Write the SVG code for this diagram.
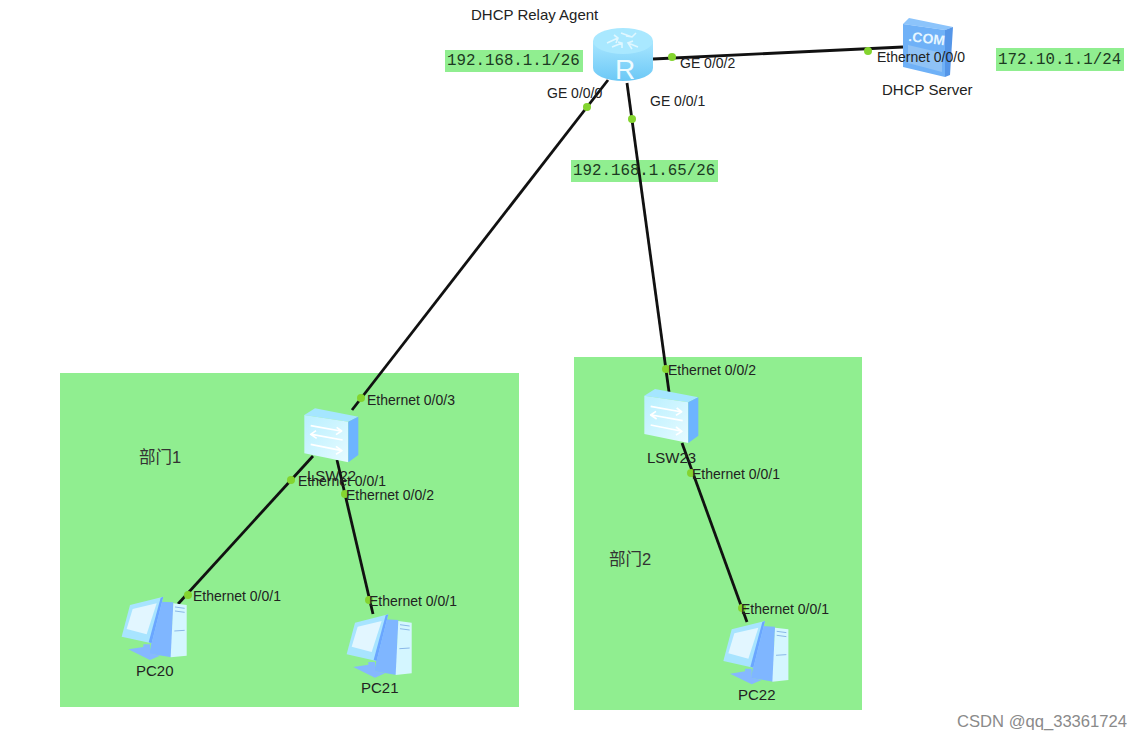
<svg xmlns="http://www.w3.org/2000/svg" width="1142" height="739" viewBox="0 0 1142 739">
<style>
text{font-family:"Liberation Sans",Arial,sans-serif;font-size:15px;fill:#222}
.port{font-size:14px}
.ip{font-family:"Liberation Mono","DejaVu Sans Mono",monospace;font-size:15.8px;fill:#1c3a22}
.cn{font-family:"Liberation Sans","Noto Sans CJK SC",sans-serif;font-size:16.5px;fill:#333}
.region,.iprect{fill:#90ee90}
.link{stroke:#111;stroke-width:2.8;fill:none}
.dot{fill:#84d42f}
.arrow{stroke:#fff;stroke-width:5;fill:none;stroke-linejoin:round}
</style>
<defs>
<linearGradient id="sw" x1="0" y1="0" x2="1" y2="1"><stop offset="0" stop-color="#b8efff"/><stop offset="1" stop-color="#e6fbff"/></linearGradient>
<linearGradient id="rt" x1="0" y1="0" x2="0" y2="1"><stop offset="0" stop-color="#a8e6ff"/><stop offset="1" stop-color="#6cc8f6"/></linearGradient>
<g id="pc">
<path d="M148 50L190 52L185 217L118 206Z" fill="#7fb6ff"/>
<path d="M190 55L230 60V212L182 217Z" fill="#d4f6ff"/>
<path d="M195 66L224 70M195 78L224 82M193 138L224 136" stroke="#8ab8e8" stroke-width="3"/>
<path d="M100 178H120V205L150 212L120 225L55 193L100 186Z" fill="#86b8ff"/>
<path d="M60 60L160 35L125 175L35 155Z" fill="#a8e4ff"/>
<path d="M152 38L160 35L125 175L116 172Z" fill="#6aa6ff"/>
<path d="M68 72L140 55L110 148L50 132Z" fill="#e2f6ff"/>
</g>
<g id="switch">
<path d="M103 90L135 70L265 95L235 110Z" fill="#a5e6ff"/>
<path d="M103 90L235 110V232L103 205Z" fill="url(#sw)"/>
<path d="M235 110L265 95V210L235 232Z" fill="#6db4ff"/>
<path class="arrow" d="M122 122L212 138M200 127L215 138L198 149M218 165L125 148M138 137L122 148L140 160M122 178L212 196M198 184L216 197L198 208"/>
</g>
</defs>
<rect width="1142" height="739" fill="#fff"/>
<g id="regions">
<rect class="region" x="60" y="373" width="459" height="334"/>
<rect class="region" x="574" y="357" width="288" height="353"/>
<rect class="iprect" x="445" y="50" width="138" height="22"/>
<rect class="iprect" x="571" y="160" width="147" height="22"/>
<rect class="iprect" x="996" y="48" width="128" height="23"/>
</g>
<g id="connectors">
<path class="link" d="M608 80L352 410"/>
<path class="link" d="M627 83L669 392"/>
<path class="link" d="M653 59L903 47"/>
<path class="link" d="M313 456L178 604"/>
<path class="link" d="M337 460L373 614"/>
<path class="link" d="M682 443L747 622"/>
</g>
<g id="router">
<path d="M593 41V68A30 13 0 0 0 653 68V41Z" fill="url(#rt)"/>
<ellipse cx="623" cy="41" rx="30" ry="13" fill="#a9e8ff"/>
<path d="M607 43L618 38M614 35L618 38L616 43M621 33L632 37M636 33L632 37L626 36M612 47L622 43M622 48L622 43L618 42M628 43L638 47M632 49L628 43L633 41" stroke="#e0f7ff" stroke-width="1.6" fill="none"/>
<text x="625" y="79" text-anchor="middle" style="font-size:28px;fill:#eefbff">R</text>
</g>
<g id="server">
<path d="M903 24L909 18L953 27L945 30Z" fill="#8cc4fb"/>
<path d="M903 24L945 30V77L903 67Z" fill="#6fb1f7"/>
<path d="M945 30L953 27L950 75L945 77Z" fill="#5596e8"/>
<path d="M908 45L942 53V72L908 63Z" fill="#8fc2f5"/>
<text x="908" y="41" style="font-size:14px;font-weight:700;fill:#e6f6ff" transform="rotate(7 908 41)">.COM</text>
</g>
<g id="lsw22"><use href="#switch" transform="translate(270 385) scale(.3333)"/></g>
<g id="lsw23"><use href="#switch" transform="translate(610 365.700) scale(.3333)"/></g>
<g id="pc20"><use href="#pc" transform="translate(110 585) scale(.3333)"/></g>
<g id="pc21"><use href="#pc" transform="translate(335 602.700) scale(.3333)"/></g>
<g id="pc22"><use href="#pc" transform="translate(711.700 609.300) scale(.3333)"/></g>
<g id="dots">
<circle class="dot" cx="587" cy="107" r="4"/><circle class="dot" cx="632" cy="119" r="4"/><circle class="dot" cx="672" cy="57" r="4"/><circle class="dot" cx="868" cy="51" r="4"/>
<circle class="dot" cx="361" cy="398" r="4"/><circle class="dot" cx="291" cy="480" r="4"/><circle class="dot" cx="345" cy="494" r="4"/><circle class="dot" cx="188" cy="595" r="4"/><circle class="dot" cx="369" cy="600" r="4"/>
<circle class="dot" cx="666" cy="369" r="4"/><circle class="dot" cx="691" cy="473" r="4"/><circle class="dot" cx="742" cy="608" r="4"/>
</g>
<g id="labels">
<text x="471" y="20">DHCP Relay Agent</text>
<text x="882" y="95">DHCP Server</text>
<text x="307" y="481">LSW22</text>
<text x="647" y="463">LSW23</text>
<text x="136" y="676">PC20</text>
<text x="361" y="693">PC21</text>
<text x="738" y="700">PC22</text>
<text class="port" x="547" y="98">GE 0/0/0</text>
<text class="port" x="650" y="106">GE 0/0/1</text>
<text class="port" x="680" y="68">GE 0/0/2</text>
<text class="port" x="877" y="62">Ethernet 0/0/0</text>
<text class="port" x="367" y="405">Ethernet 0/0/3</text>
<text class="port" x="298" y="486">Ethernet 0/0/1</text>
<text class="port" x="346" y="500">Ethernet 0/0/2</text>
<text class="port" x="193" y="601">Ethernet 0/0/1</text>
<text class="port" x="369" y="606">Ethernet 0/0/1</text>
<text class="port" x="668" y="375">Ethernet 0/0/2</text>
<text class="port" x="692" y="479">Ethernet 0/0/1</text>
<text class="port" x="741" y="614">Ethernet 0/0/1</text>
<text class="ip" x="447" y="65">192.168.1.1/26</text>
<text class="ip" x="573" y="175">192.168.1.65/26</text>
<text class="ip" x="998" y="64">172.10.1.1/24</text>
<text class="cn" x="139" y="463">部门1</text>
<text class="cn" x="609" y="565">部门2</text>
<text x="957" y="727" style="font-size:16.6px;fill:#8a8a8a">CSDN @qq_33361724</text>
</g>
</svg>
